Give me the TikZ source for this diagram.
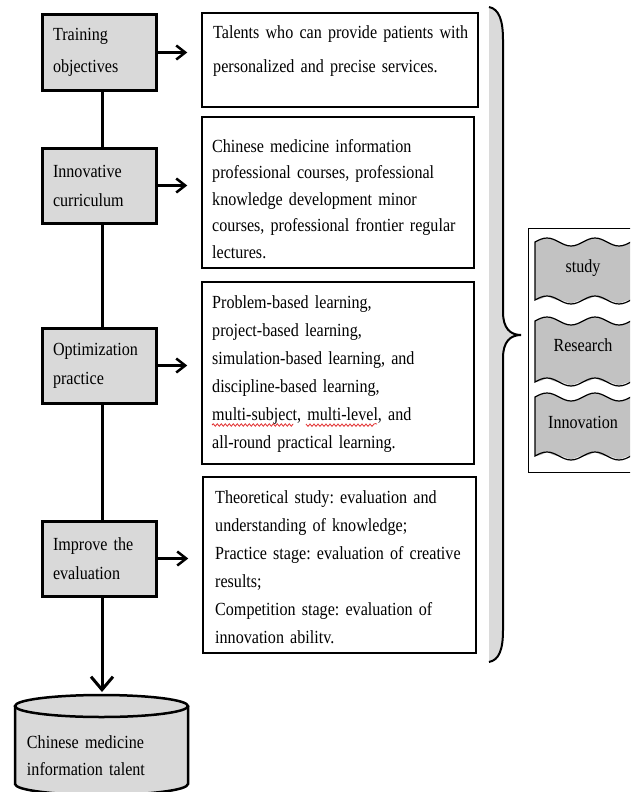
\documentclass[tikz,border=0pt]{standalone}
\usepackage{fontspec}
\setmainfont{Liberation Serif}[FakeStretch=0.87,WordSpace=0.7]
\usetikzlibrary{arrows.meta,decorations.pathmorphing}
\definecolor{boxgray}{RGB}{217,217,217}
\definecolor{tapegray}{RGB}{194,194,194}
\definecolor{bracegray}{RGB}{218,218,218}
\definecolor{spellred}{RGB}{225,45,45}
\frenchspacing
\begin{document}
\begin{tikzpicture}[x=1pt,y=-1pt,
	stage/.style={draw,line width=3pt,fill=boxgray,minimum width=114pt,minimum height=75pt,text width=92pt,inner xsep=11pt,align=left,font=\fontsize{18.5}{29}\selectfont},
	desc/.style={draw,line width=1.5pt,inner sep=0pt},
	desctext/.style={anchor=base west,align=left,inner sep=0pt,text width=262pt,font=\fontsize{18.5}{28}\selectfont},
	spine/.style={line width=3pt},
	arr/.style={line width=2.5pt,-{Straight Barb[length=9pt,width=14pt]}},
	tape/.style={draw,line width=1.2pt,fill=tapegray}]
		\useasboundingbox (0,0) rectangle (630,792);
		\clip (0,0) rectangle (630,792);
		% stages
		\node[stage,font=\fontsize{18.5}{32}\selectfont] (goal) at (99,52.5) {Training\\objectives};
		\node[stage] (course) at (99,185.5) {Innovative\\curriculum};
		\node[stage] (practice) at (99,365.5) {Optimization\\practice};
		\node[stage] (eval) at (99,558.5) {Improve the\\evaluation};
		% descriptions
		\node[desc,minimum width=276pt,minimum height=94pt] (d1) at (340,60) {};
		\node[desc,minimum width=272pt,minimum height=151pt] (d2) at (338,192.5) {};
		\node[desc,minimum width=272pt,minimum height=182pt] (d3) at (338,373) {};
		\node[desc,minimum width=273pt,minimum height=176pt] (d4) at (339.5,565) {};
		\node[desctext,font=\fontsize{18.5}{33}\selectfont] (d1-t) at (213,39) {Talents who can provide patients with\\personalized and precise services.};
		\node[desctext,font=\fontsize{18.5}{26.5}\selectfont] (d2-t) at (212,152) {Chinese medicine information\\professional courses, professional\\knowledge development minor\\courses, professional frontier regular\\lectures.};
		\node[desctext] (d3-t) at (212,308) {Problem-based learning,\\project-based learning,\\simulation-based learning, and\\discipline-based learning,\\multi-subject, multi-level, and\\all-round practical learning.};
		\node[desctext] (d4-t) at (215,503) {Theoretical study: evaluation and\\understanding of knowledge;\\Practice stage: evaluation of creative\\results;\\Competition stage: evaluation of\\innovation abilitv.};
		\draw[spellred,line width=0.8pt,decorate,decoration={snake,segment length=4pt,amplitude=1.2pt}] (212,425) -- (292,425) (306,424) -- (377,424);
		% spine and arrows
		\draw[spine] ([xshift=3pt]goal.south) -- ([xshift=3pt]course.north) ([xshift=3pt]course.south) -- ([xshift=3pt]practice.north) ([xshift=3pt]practice.south) -- ([xshift=3pt]eval.north);
		\draw[arr,shorten >=14pt] (goal.east) -- (goal.east -| d1.west);
		\draw[arr,shorten >=14pt] (course.east) -- (course.east -| d2.west);
		\draw[arr,shorten >=14pt] (practice.east) -- (practice.east -| d3.west);
		\draw[arr,shorten >=14pt] (eval.east) -- (eval.east -| d4.west);
		% talent cylinder
		\draw[line width=2.5pt,fill=boxgray] (15,706) -- (15,784) arc[start angle=180,end angle=360,x radius=86.5pt,y radius=11pt] -- (188,706);
		\draw[line width=2.5pt,fill=boxgray] (101.5,706) ellipse [x radius=86.5pt,y radius=11pt];
		\node[align=left,text width=149pt,inner sep=0pt,font=\fontsize{18.5}{27}\selectfont] (talent) at (101.5,756) {Chinese medicine\\information talent};
		\coordinate (talent-top) at (102,692);
		\draw[line width=3pt,-{Straight Barb[length=13pt,width=22pt]}] ([xshift=3pt]eval.south) -- (talent-top);
		% brace
		\fill[bracegray] (489,7) .. controls (499,9) and (503,20) .. (503,40) -- (503,312) .. controls (503,328) and (510,335) .. (521,335) .. controls (510,335) and (503,342) .. (503,358) -- (503,630) .. controls (503,650) and (499,660) .. (489,662) -- cycle;
		\draw[line width=2pt] (489,7) .. controls (499,9) and (503,20) .. (503,40) -- (503,312) .. controls (503,328) and (510,335) .. (521,335) .. controls (510,335) and (503,342) .. (503,358) -- (503,630) .. controls (503,650) and (499,660) .. (489,662);
		% study, research, innovation
		\coordinate (group) at (528,350);
		\draw[line width=1pt] (660,228) -| (528,472) -- (660,472);
		\foreach \t/\b/\m/\n/\lab in {242/300/268/study/study,321/382/345/research/Research,397/456/422/innov/Innovation}{
			\fill[tapegray] (535,\t) sin (547,\t-4) cos (559,\t) sin (571,\t+4) cos (583,\t) sin (595,\t-4) cos (607,\t) sin (619,\t+4) cos (631,\t) sin (643,\t-4) -- (643,\b-4) sin (631,\b) cos (619,\b+4) sin (607,\b) cos (595,\b-4) sin (583,\b) cos (571,\b+4) sin (559,\b) cos (547,\b-4) sin (535,\b) -- cycle;
			\draw[line width=1.2pt] (643,\t-4) cos (631,\t) sin (619,\t+4) cos (607,\t) sin (595,\t-4) cos (583,\t) sin (571,\t+4) cos (559,\t) sin (547,\t-4) cos (535,\t) -- (535,\b) sin (547,\b-4) cos (559,\b) sin (571,\b+4) cos (583,\b) sin (595,\b-4) cos (607,\b) sin (619,\b+4) cos (631,\b) sin (643,\b-4);
			\node[font=\fontsize{18.5}{20}\selectfont] (\n) at (583,\m) {\lab};
		}
	\end{tikzpicture}
\end{document}
